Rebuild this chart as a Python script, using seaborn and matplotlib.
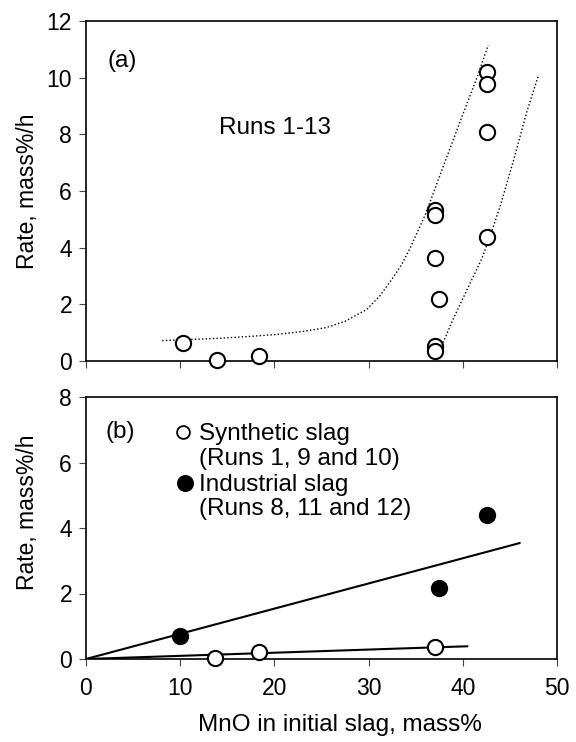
import matplotlib
matplotlib.use("Agg")
import matplotlib.pyplot as plt
import seaborn as sns

sns.set_style("ticks")
plt.rcParams["font.family"] = ["Liberation Sans", "DejaVu Sans"]
plt.rcParams["font.size"] = 16
plt.rcParams["text.color"] = "black"
plt.rcParams["axes.labelcolor"] = "black"

# ---- Panel (a): all runs 1-13 ----
runs_mno = [10.3, 13.9, 18.4, 37.05, 37.05, 37.05, 37.5, 37.05, 37.05, 42.56, 42.56, 42.56, 42.56]
runs_rate = [0.65, 0.02, 0.18, 5.33, 5.14, 3.62, 2.20, 0.53, 0.35, 10.20, 9.76, 8.10, 4.39]

# dotted guide curves (upper and lower envelopes)
upper_x = [8.1, 11.0, 14.0, 17.0, 20.0, 23.0, 25.5, 27.5, 29.8, 31.2, 32.5, 33.5, 34.4, 36.0, 38.3, 40.0, 41.5, 42.7]
upper_y = [0.72, 0.76, 0.80, 0.86, 0.93, 1.04, 1.18, 1.40, 1.82, 2.30, 2.90, 3.40, 3.98, 5.15, 7.20, 8.70, 10.00, 11.15]
lower_x = [37.4, 38.1, 39.0, 40.0, 41.0, 42.0, 43.0, 44.0, 45.4, 46.8, 48.0]
lower_y = [0.30, 0.80, 1.50, 2.20, 2.90, 3.60, 4.50, 5.50, 7.10, 8.80, 10.05]

# ---- Panel (b): synthetic vs industrial slag ----
synth_mno = [13.7, 18.4, 37.1]
synth_rate = [0.02, 0.21, 0.37]
indus_mno = [10.0, 37.5, 42.56]
indus_rate = [0.70, 2.18, 4.39]

# linear trends through the origin: [x_start, x_end], slope
synth_fit_x = [0.0, 40.5]
synth_slope = 0.0096
indus_fit_x = [0.0, 46.05]
indus_slope = 0.0769

x_ticks = [0, 10, 20, 30, 40, 50]
ya_ticks = [0, 2, 4, 6, 8, 10, 12]
yb_ticks = [0, 2, 4, 6, 8]

BODY = 17.5

W, H = 576, 742
fig = plt.figure(figsize=(W / 100, H / 100), dpi=100)
left, right = 86, 557
ax1 = fig.add_axes([left / W, 1 - 361 / H, (right - left) / W, 340 / H])
ax2 = fig.add_axes([left / W, 1 - 659 / H, (right - left) / W, 262 / H])

dot_style = dict(color="black", linewidth=1.0, linestyle=(0, (1, 1.6)))
mk = dict(s=120, facecolor="white", edgecolor="black", linewidth=1.5,
          zorder=5, clip_on=False)

# panel (a)
sns.lineplot(x=upper_x, y=upper_y, ax=ax1, sort=False, estimator=None, **dot_style)
sns.lineplot(x=lower_x, y=lower_y, ax=ax1, sort=False, estimator=None, **dot_style)
sns.scatterplot(x=runs_mno, y=runs_rate, ax=ax1, **mk)
ax1.set_xlim(0, 50)
ax1.set_ylim(0, 12)
ax1.set_xticks(x_ticks)
ax1.set_xticklabels([])
ax1.set_yticks(ya_ticks)
ax1.set_ylabel("Rate, mass%/h", fontsize=16.5)
ax1.yaxis.set_label_coords(-0.1, 0.5)
ax1.text(2.25, 10.58, "(a)", va="center", ha="left", fontsize=BODY)
ax1.text(14.07, 8.22, "Runs 1-13", va="center", ha="left", fontsize=BODY)

# panel (b)
for fx, slope in ((synth_fit_x, synth_slope), (indus_fit_x, indus_slope)):
    fy = [slope * v for v in fx]
    sns.lineplot(x=fx, y=fy, ax=ax2, sort=False, estimator=None,
                 color="black", linewidth=1.5)
sns.scatterplot(x=synth_mno, y=synth_rate, ax=ax2, **mk)
sns.scatterplot(x=indus_mno, y=indus_rate, ax=ax2,
                **{**mk, "facecolor": "black"})
ax2.set_xlim(0, 50)
ax2.set_ylim(0, 8)
ax2.set_xticks(x_ticks)
ax2.set_yticks(yb_ticks)
ax2.set_ylabel("Rate, mass%/h", fontsize=16.5)
ax2.yaxis.set_label_coords(-0.1, 0.561)
ax2.set_xlabel("MnO in initial slag, mass%", fontsize=BODY)
ax2.xaxis.set_label_coords(0.54, -0.21)
ax2.text(2.12, 6.94, "(b)", va="center", ha="left", fontsize=BODY)

# key
ax2.scatter([10.33], [6.93], s=85, facecolor="white", edgecolor="black",
            linewidth=1.3, zorder=5)
ax2.scatter([10.5], [5.36], s=120, facecolor="black", edgecolor="black",
            linewidth=1.3, zorder=5)
for yb, txt in ((6.69, "Synthetic slag"), (5.91, "(Runs 1, 9 and 10)"),
                (5.14, "Industrial slag"), (4.40, "(Runs 8, 11 and 12)")):
    ax2.text(11.95, yb, txt, va="baseline", ha="left", fontsize=BODY)

for ax in (ax1, ax2):
    for sp in ax.spines.values():
        sp.set_visible(True)
        sp.set_color("black")
        sp.set_linewidth(1.2)
    ax.tick_params(direction="out", length=5, width=0.8, color="#444444",
                   labelcolor="black", labelsize=16.5, pad=5)
    ax.tick_params(axis="x", pad=8)
    ax.set_facecolor("white")

fig.savefig("out.png", dpi=100, facecolor="white")
